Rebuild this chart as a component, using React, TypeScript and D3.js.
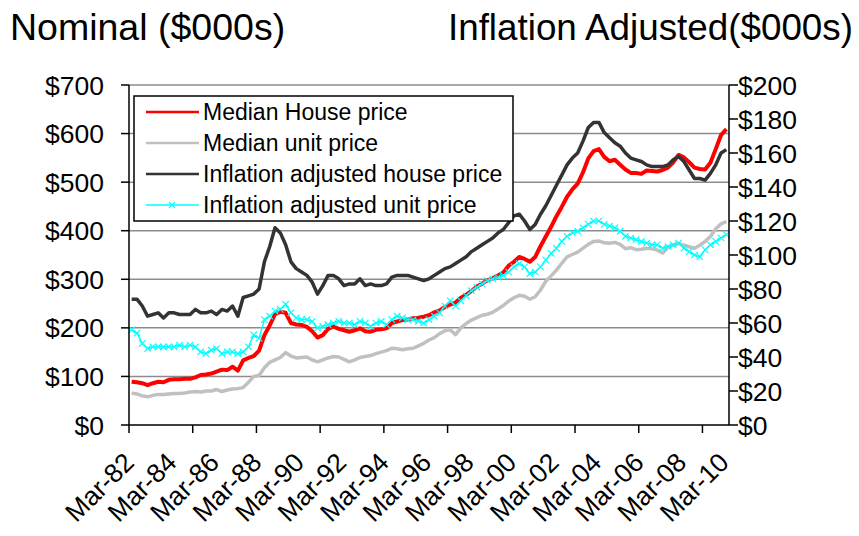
import React from 'react';
import * as d3 from 'd3';

// quarterly, Mar-82 .. Mar-10
const medianHouse = [
  89, 88, 86, 82, 86, 89, 88, 93, 94, 94,
  95, 95, 98, 103, 104, 106, 110, 114, 113, 120,
  112, 133, 138, 142, 153, 185, 205, 228, 233, 231,
  210, 207, 206, 202, 193, 180, 185, 198, 203, 198,
  195, 192, 195, 199, 193, 192, 196, 197, 199, 210,
  213, 216, 217, 220, 221, 223, 226, 232, 236, 243,
  248, 252, 262, 268, 276, 285, 291, 298, 302, 308,
  314, 328, 336, 346, 342, 336, 346, 368, 388, 408,
  430, 449, 470, 485, 497, 520, 549, 564, 568, 552,
  543, 546, 536, 526, 519, 519, 517, 524, 523, 522,
  525, 530, 541, 556, 551, 541, 530, 527, 526, 540,
  568, 597, 609,
];
const medianUnit = [
  66, 64, 60, 58, 61, 63, 63, 64, 65, 65,
  66, 68, 69, 68, 70, 70, 73, 69, 72, 74,
  75, 77, 88, 100, 102, 118, 129, 134, 139, 149,
  142, 138, 139, 140, 134, 130, 134, 138, 141, 140,
  135, 130, 134, 139, 141, 143, 147, 150, 153, 158,
  157, 155, 157, 158, 163, 168, 175, 180, 188, 194,
  196, 186, 200, 209, 216, 221, 226, 228, 232, 239,
  246, 255, 262, 267, 265, 259, 264, 278, 296, 307,
  319, 333, 346, 351, 356, 364, 372, 378, 379, 375,
  374, 376, 372, 363, 365, 361, 362, 364, 363, 360,
  354, 366, 370, 374, 370, 367, 364, 370, 378, 388,
  404, 414, 419,
];
const realHouse = [
  74, 74, 70, 64, 65, 66, 63, 66, 66, 65,
  65, 65, 68, 66, 66, 67, 65, 68, 67, 70,
  64, 75, 76, 77, 80, 96, 105, 116, 113, 106,
  96, 92, 90, 88, 84, 77, 82, 88, 88, 86,
  82, 83, 83, 86, 82, 83, 82, 82, 83, 87,
  88, 88, 88, 87, 86, 85, 86, 88, 90, 92,
  93, 95, 97, 99, 102, 104, 106, 108, 110, 113,
  115, 119, 123, 124, 120, 115, 118, 124, 129, 135,
  141, 147, 153, 157, 160, 167, 175, 178, 178, 172,
  169, 166, 164, 160, 157, 156, 155, 153, 152, 152,
  152, 153, 156, 158, 155, 150, 145, 145, 144, 148,
  153, 160, 162,
];
const realUnit = [
  56, 54, 48, 45, 46, 46, 46, 46, 46, 47,
  46, 47, 46, 43, 42, 44, 45, 42, 43, 43,
  42, 43, 46, 53, 51, 62, 64, 67, 68, 71,
  66, 63, 62, 62, 61, 57, 58, 59, 60, 61,
  60, 60, 59, 61, 60, 58, 60, 61, 59, 62,
  64, 63, 62, 62, 61, 60, 62, 64, 66, 70,
  73, 70, 73, 76, 79, 81, 83, 85, 86, 87,
  88, 90, 93, 95, 93, 89, 90, 93, 97, 101,
  104, 108, 111, 113, 114, 116, 118, 120, 120, 118,
  117, 116, 114, 111, 110, 109, 108, 107, 106, 106,
  104, 105, 106, 107, 104, 102, 100, 99, 103, 106,
  108, 110, 112,
];

const leftTicks = [0, 100, 200, 300, 400, 500, 600, 700];
const rightTicks = [0, 20, 40, 60, 80, 100, 120, 140, 160, 180, 200];

const monthNames = ['Mar', 'Jun', 'Sep', 'Dec'];
const quarters = medianHouse.map((_, i) => {
  const yr = (82 + Math.floor(i / 4)) % 100;
  return `${monthNames[i % 4]}-${String(yr).padStart(2, '0')}`;
});

const seriesInfo = [
  { name: 'Median House price', color: '#ff0000', width: 4 },
  { name: 'Median unit price', color: '#c0c0c0', width: 3.5 },
  { name: 'Inflation adjusted house price', color: '#333333', width: 3.5 },
  { name: 'Inflation adjusted unit price', color: '#00ffff', width: 1.5 },
];

const W = 859;
const H = 536;
const FONT = '"Liberation Sans", Arial, sans-serif';

const App: React.FC = () => {
  const left = 129, right = 729, top = 85, bottom = 425;

  const x = d3.scaleBand<string>().domain(quarters).range([left, right]).padding(0);
  const cx = (i: number) => (x(quarters[i]) ?? 0) + x.bandwidth() / 2;
  const yL = d3.scaleLinear().domain([0, 700]).range([bottom, top]);
  const yR = d3.scaleLinear().domain([0, 200]).range([bottom, top]);

  const lineL = d3.line<number>().x((_, i) => cx(i)).y(d => yL(d));
  const lineR = d3.line<number>().x((_, i) => cx(i)).y(d => yR(d));

  const tickIdx = quarters.map((_, i) => i).filter(i => i % 12 === 0);
  const labelIdx = quarters.map((_, i) => i).filter(i => i % 8 === 0);

  const legendRows = [112, 143, 174, 205];

  return (
    <svg width={W} height={H} style={{ position: 'absolute', left: 0, top: 0, background: '#fff' }} fontFamily={FONT}>
      <text x={10} y={40} fontSize={37.5}>Nominal ($000s)</text>
      <text x={853} y={40} fontSize={36.8} textAnchor="end">Inflation Adjusted($000s)</text>

      {/* gridlines */}
      {leftTicks.slice(1).map(t => (
        <line key={t} x1={left} x2={right} y1={yL(t)} y2={yL(t)} stroke="#8c8c8c" strokeWidth={1.5} />
      ))}

      {/* series */}
      <path d={lineL(medianUnit) ?? ''} fill="none" stroke={seriesInfo[1].color} strokeWidth={seriesInfo[1].width} strokeLinejoin="round" />
      <path d={lineL(medianHouse) ?? ''} fill="none" stroke={seriesInfo[0].color} strokeWidth={seriesInfo[0].width} strokeLinejoin="round" />
      <path d={lineR(realHouse) ?? ''} fill="none" stroke={seriesInfo[2].color} strokeWidth={seriesInfo[2].width} strokeLinejoin="round" />
      <path d={lineR(realUnit) ?? ''} fill="none" stroke={seriesInfo[3].color} strokeWidth={seriesInfo[3].width} strokeLinejoin="round" />
      {realUnit.map((v, i) => {
        const px = cx(i), py = yR(v), s = 3.2;
        return (
          <path key={i} d={`M${px - s},${py - s}L${px + s},${py + s}M${px - s},${py + s}L${px + s},${py - s}`}
            stroke="#00ffff" strokeWidth={1.2} />
        );
      })}

      {/* left axis */}
      <line x1={left} x2={left} y1={top} y2={bottom} stroke="#000" strokeWidth={1.5} />
      {leftTicks.map(t => (
        <g key={t}>
          <line x1={left - 8} x2={left} y1={yL(t)} y2={yL(t)} stroke="#000" strokeWidth={1.5} />
          <text x={104} y={yL(t) + 9.5} fontSize={26.5} textAnchor="end">{`$${t}`}</text>
        </g>
      ))}

      {/* right axis */}
      <line x1={right} x2={right} y1={top} y2={bottom} stroke="#000" strokeWidth={1.5} />
      {rightTicks.map(t => (
        <g key={t}>
          <line x1={right} x2={right + 9} y1={yR(t)} y2={yR(t)} stroke="#000" strokeWidth={1.5} />
          <text x={738} y={yR(t) + 9.5} fontSize={26.5}>{`$${t}`}</text>
        </g>
      ))}

      {/* bottom axis */}
      <line x1={left} x2={right} y1={bottom} y2={bottom} stroke="#000" strokeWidth={1.5} />
      {tickIdx.map(i => {
        const tx = x(quarters[i]) ?? 0;
        return <line key={i} x1={tx} x2={tx} y1={bottom} y2={bottom + 8} stroke="#000" strokeWidth={1.5} />;
      })}
      {labelIdx.map(i => (
        <text key={i} transform={`translate(${cx(i) + 4},${464}) rotate(-45)`} fontSize={26.5} textAnchor="end">
          {quarters[i]}
        </text>
      ))}

      {/* legend */}
      <rect x={134} y={96} width={379} height={125} fill="#fff" stroke="#000" strokeWidth={1.5} />
      {seriesInfo.map((s, k) => (
        <g key={s.name}>
          <line x1={146} x2={199} y1={legendRows[k]} y2={legendRows[k]} stroke={s.color}
            strokeWidth={k === 3 ? 1.5 : 2.5} />
          {k === 3 && (
            <path d={`M${172 - 3},${legendRows[k] - 3}L${172 + 3},${legendRows[k] + 3}M${172 - 3},${legendRows[k] + 3}L${172 + 3},${legendRows[k] - 3}`}
              stroke="#00ffff" strokeWidth={1.2} />
          )}
          <text x={203} y={legendRows[k] + 8} fontSize={23}>{s.name}</text>
        </g>
      ))}
    </svg>
  );
};

export default App;
